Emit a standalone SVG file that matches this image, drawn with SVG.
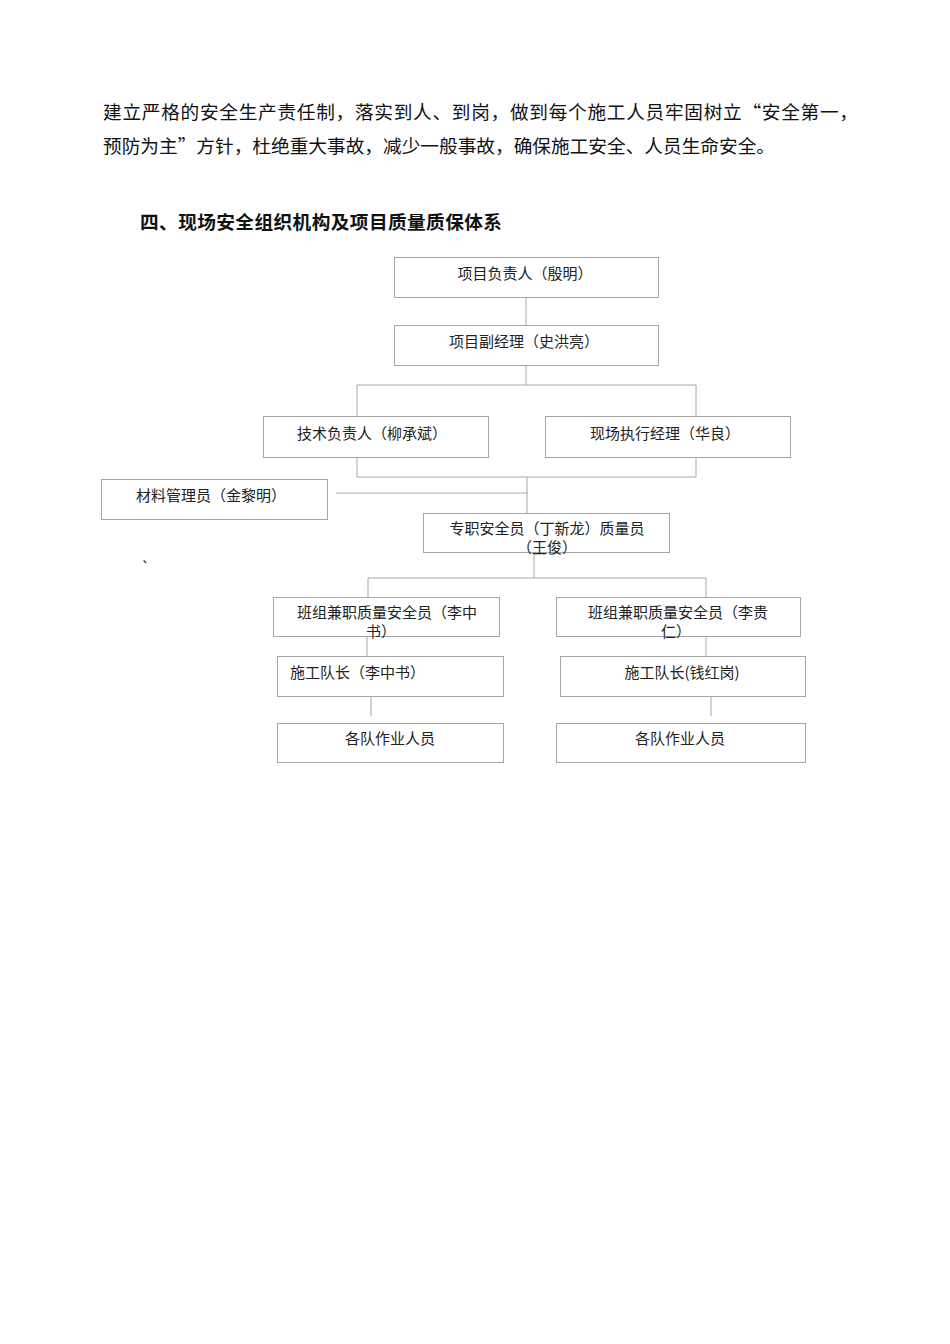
<svg xmlns="http://www.w3.org/2000/svg" width="950" height="1344" viewBox="0 0 950 1344">
<style>
.bg{fill:#ffffff}
.p{font-family:"Noto Sans CJK SC","Noto Sans CJK JP",sans-serif;font-size:18.67px;fill:#111}
.h{font-family:"Noto Sans CJK SC","Noto Sans CJK JP",sans-serif;font-size:18.67px;font-weight:bold;fill:#111}
.box{fill:#ffffff;stroke:#a6a6a6;stroke-width:1}
.t{font-family:"Noto Sans CJK SC","Noto Sans CJK JP",sans-serif;font-size:15px;fill:#222;text-anchor:middle}
.tl{font-family:"Noto Sans CJK SC","Noto Sans CJK JP",sans-serif;font-size:15px;fill:#222}
.c line{stroke:#a6a6a6;stroke-width:1;fill:none}
</style>
<rect class="bg" x="0" y="0" width="950" height="1344"/>
<text class="p" x="103" y="119" textLength="755" lengthAdjust="spacing">建立严格的安全生产责任制，落实到人、到岗，做到每个施工人员牢固树立“安全第一，</text>
<text class="p" x="103" y="153" textLength="672" lengthAdjust="spacing">预防为主”方针，杜绝重大事故，减少一般事故，确保施工安全、人员生命安全。</text>
<text class="h" x="140" y="229" textLength="362" lengthAdjust="spacing">四、现场安全组织机构及项目质量质保体系</text>
<g class="c" id="connectors">
<line x1="526" y1="297" x2="526" y2="325"/>
<line x1="526" y1="365" x2="526" y2="385"/>
<line x1="357" y1="385" x2="696" y2="385"/>
<line x1="357" y1="385" x2="357" y2="416"/>
<line x1="696" y1="385" x2="696" y2="416"/>
<line x1="357" y1="457" x2="357" y2="477"/>
<line x1="696" y1="457" x2="696" y2="477"/>
<line x1="357" y1="477" x2="696" y2="477"/>
<line x1="527" y1="477" x2="527" y2="513"/>
<line x1="336" y1="493" x2="527" y2="493"/>
<line x1="534" y1="552" x2="534" y2="578"/>
<line x1="368" y1="578" x2="706" y2="578"/>
<line x1="368" y1="578" x2="368" y2="597"/>
<line x1="706" y1="578" x2="706" y2="597"/>
<line x1="367" y1="636" x2="367" y2="656"/>
<line x1="706" y1="636" x2="706" y2="656"/>
<line x1="371" y1="697" x2="371" y2="716"/>
<line x1="711" y1="696" x2="711" y2="716"/>
</g>
<g id="n1"><rect class="box" x="394.5" y="257.5" width="264" height="40"/><text class="t" x="525" y="279">项目负责人（殷明）</text></g>
<g id="n2"><rect class="box" x="394.5" y="325.5" width="264" height="40"/><text class="t" x="524" y="347">项目副经理（史洪亮）</text></g>
<g id="n3"><rect class="box" x="263.5" y="416.5" width="225" height="41"/><text class="t" x="372" y="439">技术负责人（柳承斌）</text></g>
<g id="n4"><rect class="box" x="545.5" y="416.5" width="245" height="41"/><text class="t" x="665" y="439">现场执行经理（华良）</text></g>
<g id="n5"><rect class="box" x="101.5" y="479.5" width="226" height="40"/><text class="t" x="211" y="501">材料管理员（金黎明）</text></g>
<g id="n6"><rect class="box" x="423.5" y="513.5" width="246" height="39"/><text class="t" x="547" y="534">专职安全员（丁新龙）质量员</text><text class="t" x="547" y="553">（王俊）</text></g>
<text class="tl" x="141" y="573">`</text>
<g id="n7"><rect class="box" x="273.5" y="597.5" width="226" height="39"/><text class="t" x="387" y="618">班组兼职质量安全员（李中</text><text class="t" x="381" y="637">书）</text></g>
<g id="n8"><rect class="box" x="556.5" y="597.5" width="244" height="39"/><text class="t" x="678" y="618">班组兼职质量安全员（李贵</text><text class="t" x="676" y="637">仁）</text></g>
<g id="n9"><rect class="box" x="277.5" y="656.5" width="226" height="40"/><text class="tl" x="290" y="678">施工队长（李中书）</text></g>
<g id="n10"><rect class="box" x="560.5" y="656.5" width="245" height="40"/><text class="t" x="682" y="678">施工队长(钱红岗)</text></g>
<g id="n11"><rect class="box" x="277.5" y="723.5" width="226" height="39"/><text class="t" x="390" y="744">各队作业人员</text></g>
<g id="n12"><rect class="box" x="556.5" y="723.5" width="249" height="39"/><text class="t" x="680" y="744">各队作业人员</text></g>
</svg>
